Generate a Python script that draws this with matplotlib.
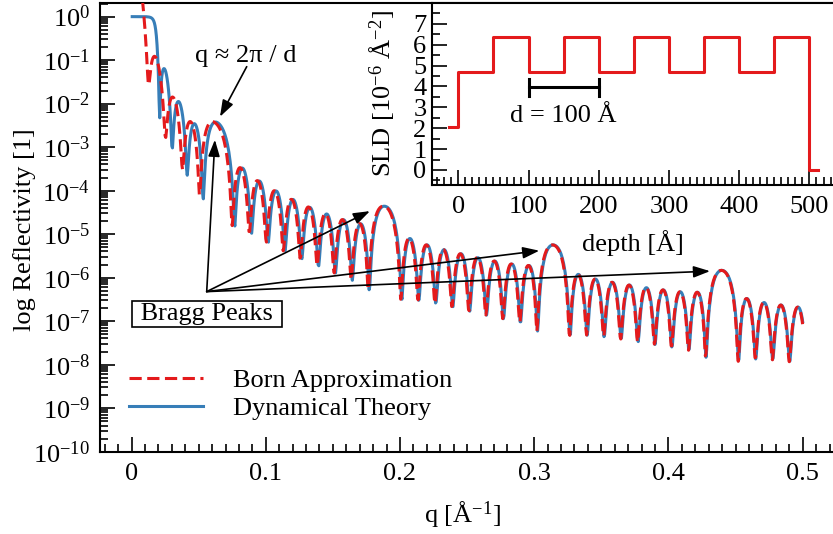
import numpy as np
import matplotlib
matplotlib.use("Agg")
import matplotlib.pyplot as plt
from matplotlib.ticker import LogLocator, MultipleLocator, NullFormatter, FuncFormatter

plt.rcParams['font.family'] = ['Liberation Serif', 'DejaVu Serif']
plt.rcParams['mathtext.fontset'] = 'custom'
plt.rcParams['mathtext.rm'] = 'Liberation Serif'
plt.rcParams['mathtext.it'] = 'Liberation Serif:italic'
plt.rcParams['axes.unicode_minus'] = True

# ---- data: SLD profile (1e-6 Å^-2), listed from free surface downwards ----
layer_sld = [6.36, 4.70, 6.36, 4.70, 6.36, 4.70, 6.36, 4.70, 6.36, 4.70]
layer_thickness = [50.0, 50.0, 50.0, 50.0, 50.0, 50.0, 50.0, 50.0, 50.0, 50.0]
substrate_sld = 2.07
ambient_sld = 0.0
inset_depth_start = -13.0
inset_depth_end = 512.0

# q range of the simulated curves (Å^-1)
q_start, q_stop, q_count = 0.0005, 0.5, 1000

# annotation anchors (q, R)
bragg_tips_q = [0.0621, 0.1776, 0.3038, 0.4310]
bragg_tips_R = [10**-2.83, 10**-4.47, 10**-5.38, 10**-5.85]
bragg_origin = (0.0560, 10**-6.32)
bragg_label = (0.0562, 10**-6.972)
peak_label = (0.0853, 10**-1.041)
peak_arrow_from = (0.0858, 10**-1.15)
peak_arrow_to = (0.0659, 10**-2.30)

RED = '#e41a1c'
BLUE = '#377eb8'
FS = 19


def parratt(q, sld, thick, amb, sub):
    rho = np.array([amb] + list(sld) + [sub]) * 1e-6
    d = np.array([0.0] + list(thick) + [0.0])
    kz0 = q / 2.0
    k = np.sqrt(kz0[:, None] ** 2 - 4 * np.pi * (rho[None, :] - rho[0]) + 0j)
    X = np.zeros_like(q, dtype=complex)
    for j in range(len(rho) - 2, -1, -1):
        r = (k[:, j] - k[:, j + 1]) / (k[:, j] + k[:, j + 1])
        ph = np.exp(2j * k[:, j + 1] * d[j + 1])
        X = (r + X * ph) / (1 + r * X * ph)
    return np.abs(X) ** 2


def born(q, sld, thick, amb, sub):
    rho = np.array([amb] + list(sld) + [sub]) * 1e-6
    z = np.concatenate([[0.0], np.cumsum(thick)])
    drho = np.diff(rho)
    amp = (drho[None, :] * np.exp(1j * q[:, None] * z[None, :])).sum(axis=1)
    return 16 * np.pi ** 2 / q ** 4 * np.abs(amp) ** 2


q = np.linspace(q_start, q_stop, q_count)
R_dyn = parratt(q, layer_sld, layer_thickness, ambient_sld, substrate_sld)
R_born = born(q, layer_sld, layer_thickness, ambient_sld, substrate_sld)

fig = plt.figure(figsize=(8.33, 5.34), dpi=100)
ax = fig.add_axes([0.12005, 0.15412, 0.87995, 0.8403])

l_dyn, = ax.plot(q, R_dyn, color=BLUE, lw=2.2, label='Dynamical Theory', zorder=2)
l_born, = ax.plot(q, R_born, color=RED, lw=2.2, ls=(0, (4, 1.8)), label='Born Approximation', zorder=3)
ax.set_yscale('log')
ax.set_xlim(-0.0235, 0.5226)
ax.set_ylim(1e-10, 2.06)

ax.yaxis.set_major_locator(LogLocator(base=10, numticks=30))
ax.yaxis.set_minor_locator(LogLocator(base=10, subs=np.arange(2, 10), numticks=30))
ax.yaxis.set_minor_formatter(NullFormatter())
ax.xaxis.set_major_locator(MultipleLocator(0.1))
ax.xaxis.set_minor_locator(MultipleLocator(0.01))
ax.xaxis.set_major_formatter(FuncFormatter(lambda v, p: '%g' % round(v, 3)))
ax.tick_params(which='both', direction='in', top=False, right=False, labelsize=FS, width=1.2)
ax.tick_params(which='major', length=11)
ax.tick_params(which='minor', length=5.5)
ax.tick_params(axis='y', which='major', pad=7)
ax.tick_params(axis='x', which='major', pad=8)
for s in ['left', 'bottom', 'top']:
    ax.spines[s].set_linewidth(1.5)
ax.spines['right'].set_visible(False)

ax.set_xlabel('q [Å$^{\\mathdefault{-1}}$]', fontsize=FS)
ax.set_ylabel('log Reflectivity [1]', fontsize=FS)
ax.xaxis.set_label_coords(0.495, -0.105)
ax.yaxis.set_label_coords(-0.087, 0.494)

leg = ax.legend(handles=[l_born, l_dyn], loc='upper left', bbox_to_anchor=(0.0396, 0.1845),
                frameon=False, fontsize=FS, handlelength=2.8, handletextpad=1.15,
                labelspacing=0.15, borderpad=0, borderaxespad=0)

# annotations
ax.text(peak_label[0], peak_label[1], 'q ≈ 2π / d', fontsize=FS, ha='center', va='baseline')
arrow_style = dict(arrowstyle='-|>,head_length=1.0,head_width=0.35', color='black', lw=1.2,
                   mutation_scale=10, shrinkA=0, shrinkB=0)
ax.annotate('', xy=peak_arrow_to, xytext=peak_arrow_from, arrowprops=arrow_style)
for tq, tr in zip(bragg_tips_q, bragg_tips_R):
    ax.annotate('', xy=(tq, tr), xytext=bragg_origin, arrowprops=arrow_style)
ax.text(bragg_label[0], bragg_label[1], ' Bragg Peaks ', fontsize=FS, ha='center', va='baseline',
        bbox=dict(boxstyle='square,pad=0.08', fc='white', ec='black', lw=1.2))

# ---- inset: SLD profile ----
axin = fig.add_axes([0.5186, 0.6536, 0.4814, 0.3408])
axin.set_facecolor('white')
film_depth_edges = np.concatenate([[0.0], np.cumsum(layer_thickness[::-1])])
sld_depth_order = layer_sld[::-1]
px = [inset_depth_start, 0.0]
py = [substrate_sld, substrate_sld]
for z0, z1, s in zip(film_depth_edges[:-1], film_depth_edges[1:], sld_depth_order):
    px += [z0, z1]
    py += [s, s]
px += [film_depth_edges[-1], inset_depth_end]
py += [ambient_sld, ambient_sld]
axin.plot(px, py, color=RED, lw=2.2)

period = layer_thickness[0] + layer_thickness[1]
d_bar_y = 3.96
axin.plot([period, 2 * period], [d_bar_y, d_bar_y], color='black', lw=2.2)
axin.plot([period, period], [d_bar_y - 0.42, d_bar_y + 0.42], color='black', lw=2.2)
axin.plot([2 * period, 2 * period], [d_bar_y - 0.42, d_bar_y + 0.42], color='black', lw=2.2)
axin.text(1.5 * period, 2.32, 'd = %d Å' % period, fontsize=FS, ha='center', va='baseline')

axin.set_xlim(-37.4, 533.5)
axin.set_ylim(-0.72, 8.0)
axin.xaxis.set_major_locator(MultipleLocator(100))
axin.xaxis.set_minor_locator(MultipleLocator(10))
axin.yaxis.set_major_locator(MultipleLocator(1))
axin.yaxis.set_minor_locator(MultipleLocator(0.5))
axin.set_yticks(range(0, 8))
axin.tick_params(which='both', direction='in', top=False, right=False, labelsize=FS, width=1.2)
axin.tick_params(which='major', length=11)
axin.tick_params(which='minor', length=5.5)
axin.tick_params(axis='y', which='major', pad=4)
axin.tick_params(axis='x', which='major', pad=8)
for s in ['left', 'bottom', 'top']:
    axin.spines[s].set_linewidth(1.5)
axin.spines['right'].set_visible(False)
axin.set_xlabel('depth [Å]', fontsize=FS)
axin.set_ylabel('SLD [10$^{\\mathdefault{-6}}$ Å$^{\\mathdefault{-2}}$]', fontsize=FS)
axin.xaxis.set_label_coords(0.5, -0.247)
axin.yaxis.set_label_coords(-0.087, 0.5)

fig.savefig('out.png', dpi=100)
